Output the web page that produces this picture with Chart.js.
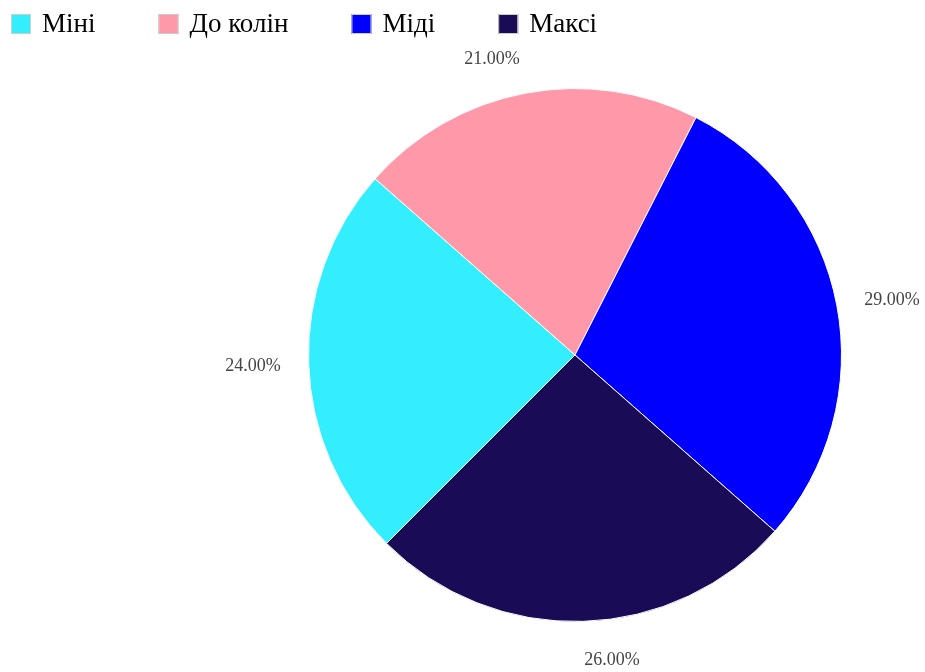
<!DOCTYPE html>
<html>
<head>
<meta charset="utf-8">
<script src="https://cdn.jsdelivr.net/npm/chart.js@4"></script>
<style>
  html, body { margin: 0; padding: 0; background: #fff; }
  #wrap { width: 925px; height: 672px; position: relative; }
</style>
</head>
<body>
<div id="wrap"><canvas id="c"></canvas></div>
<script>
const categories = ['Міні', 'До колін', 'Міді', 'Максі'];
const values = [24, 21, 29, 26];
const colors = ['#33eeff', '#ff99aa', '#0000ff', '#1a0b57'];

const FONT = "'Liberation Serif', 'Times New Roman', serif";

const legendPlugin = {
  id: 'customLegend',
  afterDraw(chart) {
    const ctx = chart.ctx;
    ctx.save();
    ctx.font = '27px ' + FONT;
    ctx.textBaseline = 'middle';
    ctx.textAlign = 'left';
    let x = 11;
    const y = 14, box = 20, gap = 63;
    categories.forEach((label, i) => {
      ctx.fillStyle = colors[i];
      ctx.fillRect(x, y, box, box);
      ctx.strokeStyle = '#cccccc';
      ctx.lineWidth = 1;
      ctx.strokeRect(x + 0.5, y + 0.5, box - 1, box - 1);
      ctx.fillStyle = '#000';
      const tx = x + box + 11;
      ctx.fillText(label, tx, y + box / 2 + 1);
      x = tx + ctx.measureText(label).width + gap;
    });
    ctx.restore();
  }
};

const labelPlugin = {
  id: 'pctLabels',
  afterDatasetsDraw(chart) {
    const ctx = chart.ctx;
    const meta = chart.getDatasetMeta(0);
    const total = values.reduce((a, b) => a + b, 0);
    ctx.save();
    ctx.font = '18px ' + FONT;
    ctx.fillStyle = '#444444';
    ctx.textBaseline = 'middle';
    meta.data.forEach((arc, i) => {
      const p = arc.getProps(['x', 'y', 'startAngle', 'endAngle', 'outerRadius'], true);
      const a = (p.startAngle + p.endAngle) / 2;
      const rx = p.outerRadius + 28, ry = p.outerRadius + 37;
      const x = p.x + rx * Math.cos(a);
      const y = p.y + ry * Math.sin(a) + 2;
      ctx.textAlign = Math.cos(a) < 0 ? 'right' : 'left';
      ctx.fillText((values[i] / total * 100).toFixed(2) + '%', x, y);
    });
    ctx.restore();
  }
};

new Chart(document.getElementById('c'), {
  type: 'pie',
  data: {
    labels: categories,
    datasets: [{
      data: values,
      backgroundColor: colors,
      borderColor: '#ffffff',
      borderWidth: 1
    }]
  },
  options: {
    responsive: true,
    maintainAspectRatio: false,
    animation: false,
    rotation: 225,
    layout: { padding: { top: 88, bottom: 50, left: 235, right: 10 } },
    plugins: {
      legend: { display: false },
      tooltip: { enabled: false }
    }
  },
  plugins: [legendPlugin, labelPlugin]
});
</script>
</body>
</html>
